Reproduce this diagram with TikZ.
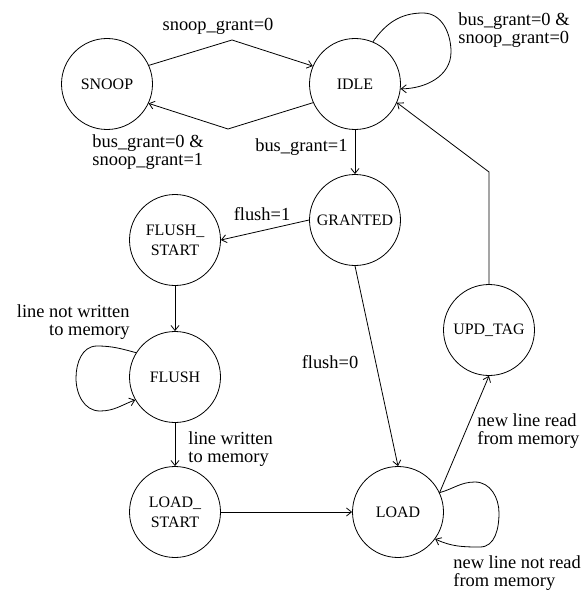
\documentclass[tikz,border=0pt]{standalone}
\usepackage{fontspec}
\setmainfont{Liberation Serif}
\usetikzlibrary{arrows.meta}
\begin{document}
\begin{tikzpicture}[x=1bp,y=1bp,line width=0.8bp,
  state/.style={circle,draw,minimum size=91bp,inner sep=0pt,align=center,font=\fontsize{16}{20}\selectfont},
  lbl/.style={inner sep=0pt,font=\fontsize{18.5}{18.5}\selectfont},
  tr/.style={-{Straight Barb[length=5bp,width=8bp]}}]
\useasboundingbox (0,0) rectangle (587,-590);
% states
\node[state] (snoop) at (107,-84) {SNOOP};
\node[state] (idle) at (355,-84) {IDLE};
\node[state] (granted) at (355,-220) {GRANTED};
\node[state] (flushstart) at (175,-240) {FLUSH\_\\START};
\node[state] (flush) at (175,-377) {FLUSH};
\node[state] (loadstart) at (175,-512) {LOAD\_\\START};
\node[state] (load) at (398,-512) {LOAD};
\node[state] (updtag) at (489,-330) {UPD\_TAG};
% bend points
\coordinate (p1) at (232,-40);
\coordinate (p2) at (228,-129);
\coordinate (p3) at (489,-172);
\coordinate (il1) at (423,-13);
\coordinate (il2) at (451,-52);
\coordinate (fl1) at (97,-346);
\coordinate (fl2) at (76,-378);
\coordinate (fl3) at (100,-411);
\coordinate (ll1) at (475,-482);
\coordinate (ll2) at (499,-513);
\coordinate (ll3) at (480,-547);
% connectors
\draw[tr] (snoop.24) -- (p1) -- (idle.157);
\draw[tr] (idle.204) -- (p2) -- (snoop.-25);
\draw[tr] (idle.south) -- (granted.north);
\draw[tr] (idle.67) to[out=55,in=180] (il1) to[out=0,in=90] (il2) to[out=-90,in=0] (idle.-6);
\draw[tr] (granted.west) -- (flushstart.east);
\draw[tr] (granted.south) -- (load.north);
\draw[tr] (flushstart.south) -- (flush.north);
\draw[tr] (flush.148) to[out=165,in=0] (fl1) to[out=180,in=90] (fl2) to[out=-90,in=180] (fl3) to[out=0,in=200] (flush.-150);
\draw[tr] (flush.south) -- (loadstart.north);
\draw[tr] (loadstart.east) -- (load.west);
\draw[tr] (load.25) -- (updtag.south);
\draw[tr] (load.25) to[out=15,in=180] (ll1) to[out=0,in=90] (ll2) to[out=-90,in=0] (ll3) to[out=180,in=-25] (load.-36);
\draw[tr] (updtag.north) -- (p3) -- (idle.-24);
% labels
\node[lbl] (l1) at (218,-26) {snoop\_grant=0};
\node[lbl,anchor=west,align=left] (l2) at (92,-152) {bus\_grant=0 \&\\snoop\_grant=1};
\node[lbl,anchor=east] (l3) at (348,-147) {bus\_grant=1};
\node[lbl,anchor=west,align=left] (l4) at (458,-30) {bus\_grant=0 \&\\snoop\_grant=0};
\node[lbl] (l5) at (262,-214) {flush=1};
\node[lbl] (l6) at (330,-362) {flush=0};
\node[lbl,anchor=east,align=right] (l7) at (130,-322) {line not written\\to memory};
\node[lbl,anchor=west,align=left] (l8) at (188,-449) {line written\\to memory};
\node[lbl,anchor=west,align=left] (l9) at (477,-431) {new line read\\from memory};
\node[lbl,anchor=west,align=left] (l10) at (453,-573) {new line not read\\from memory};
\end{tikzpicture}
\end{document}
